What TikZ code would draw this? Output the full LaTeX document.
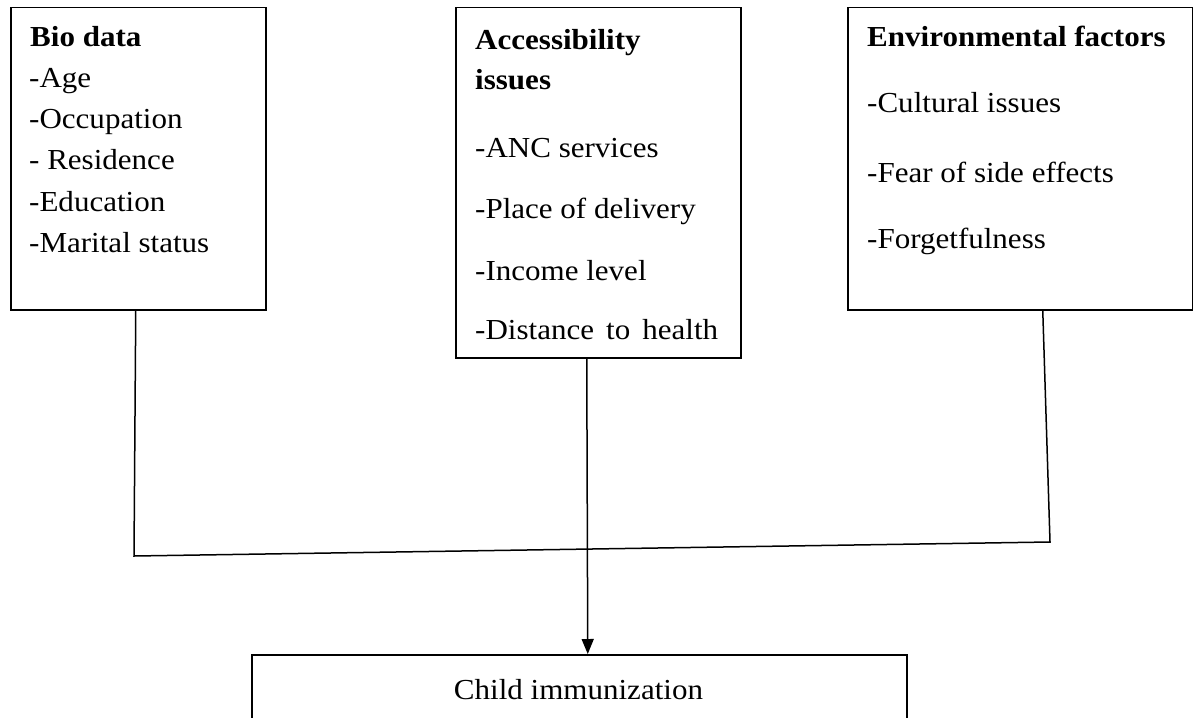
\documentclass[tikz,border=0pt]{standalone}
\usepackage{fontspec}
\setmainfont{Liberation Serif}[FakeStretch=1.07]
\usetikzlibrary{arrows.meta}
\begin{document}
\begin{tikzpicture}[x=1pt,y=-1pt,
  boxshape/.style={draw=black,line width=1.5pt,rectangle,anchor=north west,inner sep=0pt},
  txt/.style={anchor=base west,inner sep=0pt,font=\fontsize{29}{34}\selectfont},
  hdr/.style={txt,font=\fontsize{29}{34}\selectfont\bfseries},
  link/.style={draw=black,line width=1.5pt},
  arr/.style={link,-{Triangle[length=15pt,width=12pt]}}]
\clip (0,0) rectangle (1193,717);
\fill[white] (0,0) rectangle (1193,717);
% boxes
\node[boxshape,minimum width=255pt,minimum height=302pt] (bio) at (10,7) {};
\node[boxshape,minimum width=285pt,minimum height=350pt] (acc) at (455,7) {};
\node[boxshape,minimum width=345pt,minimum height=302pt] (env) at (847,7) {};
\node[boxshape,minimum width=655pt,minimum height=120pt] (child) at (251,654) {};
% bio text
\node[hdr] (bioh) at (30,47) {Bio data};
\node[txt] (bio1) at (29,87) {-Age};
\node[txt] (bio2) at (29,128) {-Occupation};
\node[txt] (bio3) at (29,169) {- Residence};
\node[txt] (bio4) at (29,211) {-Education};
\node[txt] (bio5) at (29,252) {-Marital status};
% accessibility text
\node[hdr] (acch1) at (475,50) {Accessibility};
\node[hdr] (acch2) at (475,89) {issues};
\node[txt] (acc1) at (475,157) {-ANC services};
\node[txt] (acc2) at (475,218) {-Place of delivery};
\node[txt] (acc3) at (475,280) {-Income level};
\node[txt] (acc4) at (475,339) {\makebox[243pt][s]{-Distance to health}};
% environmental text
\node[hdr] (envh) at (867,47) {Environmental factors};
\node[txt] (env1) at (867,112) {-Cultural issues};
\node[txt] (env2) at (867,182) {-Fear of side effects};
\node[txt] (env3) at (867,248) {-Forgetfulness};
% outcome text
\node[txt,anchor=base] (childt) at (578.5,699) {Child immunization};
% connectors
\coordinate (jl) at (134,556);
\coordinate (jr) at (1050,542);
\draw[link] ([xshift=-2.5pt]bio.south) -- (jl) -- (jr) -- ([xshift=22.5pt]env.south);
\draw[arr] ([xshift=-11.5pt]acc.south) -- ([xshift=8.5pt]child.north);
\end{tikzpicture}
\end{document}
